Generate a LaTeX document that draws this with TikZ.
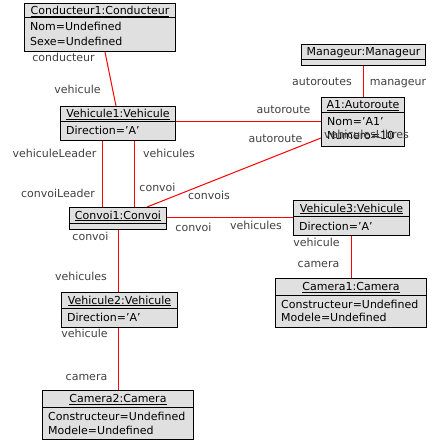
\documentclass[tikz,border=0pt]{standalone}
\usepackage{fontspec}
\setmainfont{DejaVu Sans}
\usetikzlibrary{calc}
\definecolor{boxfill}{RGB}{224,224,224}
\definecolor{lblcol}{RGB}{64,64,64}
\tikzset{
  objbox/.style={draw=black, line width=1pt, fill=boxfill, rectangle, inner sep=0pt, anchor=north west},
  ttl/.style={inner sep=0pt, text height=9pt, text depth=1pt, font=\fontsize{11}{13}\selectfont},
  attr/.style={inner sep=0pt, anchor=west, text height=9pt, text depth=1pt, font=\fontsize{11}{13}\selectfont},
  lbl/.style={inner sep=0pt, text height=9pt, text depth=1pt, text=lblcol, font=\fontsize{11}{13}\selectfont},
  conn/.style={draw=red, line width=1pt},
  divline/.style={line width=1pt},
}
\newcommand\umlobj[7]{%
  \node[objbox, minimum width={#4-#2}, minimum height={#5-#3}] (#1) at (#2,#3) {};
  \draw[divline] ($(#1.north west)+(0,#6)$) -- ($(#1.north east)+(0,#6)$);
  \node[ttl] (#1-t) at ($(#1.north)+(0,{#6/2})$) {\underline{#7}};
}
\begin{document}
\begin{tikzpicture}[x=1pt,y=-1pt]
\useasboundingbox (0,0) rectangle (433,446);
% boxes (placed first to get names; drawn over connectors via layers)
\pgfdeclarelayer{bg}
\pgfsetlayers{bg,main}
\umlobj{cond}{24}{3}{175}{51}{15}{Conducteur1:Conducteur}
\node[attr] (cond-a1) at ($(cond.north west)+(6,24)$) {Nom=Undefined};
\node[attr] (cond-a2) at ($(cond.north west)+(6,39)$) {Sexe=Undefined};
\umlobj{veh1}{60}{106}{175}{140}{16}{Vehicule1:Vehicule}
\node[attr] (veh1-a1) at ($(veh1.north west)+(6,25)$) {Direction='A'};
\umlobj{man}{301}{44}{425}{65}{16}{Manageur:Manageur}
\umlobj{aone}{321}{97}{404}{146}{16}{A1:Autoroute}
\node[attr] (aone-a1) at ($(aone.north west)+(6,25)$) {Nom='A1'};
\node[attr] (aone-a2) at ($(aone.north west)+(6,39)$) {Numero=10};
\umlobj{convoi}{69}{207}{166}{229}{16}{Convoi1:Convoi}
\umlobj{veh3}{293}{200}{409}{235}{16}{Vehicule3:Vehicule}
\node[attr] (veh3-a1) at ($(veh3.north west)+(6,26)$) {Direction='A'};
\umlobj{cam1}{275}{278}{426}{327}{17}{Camera1:Camera}
\node[attr] (cam1-a1) at ($(cam1.north west)+(6,26)$) {Constructeur=Undefined};
\node[attr] (cam1-a2) at ($(cam1.north west)+(6,39)$) {Modele=Undefined};
\umlobj{veh2}{61}{292}{177}{327}{16}{Vehicule2:Vehicule}
\node[attr] (veh2-a1) at ($(veh2.north west)+(6,25)$) {Direction='A'};
\umlobj{cam2}{42}{390}{193}{439}{17}{Camera2:Camera}
\node[attr] (cam2-a1) at ($(cam2.north west)+(6,26)$) {Constructeur=Undefined};
\node[attr] (cam2-a2) at ($(cam2.north west)+(6,40)$) {Modele=Undefined};
% connectors
\begin{pgfonlayer}{bg}
\draw[conn] ($(cond.south west)+(81,0)$) -- ($(veh1.north west)+(56,0)$);
\draw[conn] ($(veh1.north east)+(0,16)$) -- ($(aone.north west)+(0,25)$);
\draw[conn] ($(veh1.south west)+(42,0)$) -- ($(convoi.north west)+(33,0)$);
\draw[conn] ($(veh1.south west)+(74,0)$) -- ($(convoi.north west)+(65,0)$);
\draw[conn] ($(convoi.north west)+(78,0)$) -- ($(aone.north west)+(0,41)$);
\draw[conn] ($(man.south west)+(62,0)$) -- ($(aone.north west)+(42,0)$);
\draw[conn] ($(convoi.north east)+(0,10)$) -- ($(veh3.north west)+(0,17)$);
\draw[conn] ($(convoi.south west)+(49,0)$) -- ($(veh2.north west)+(57,0)$);
\draw[conn] ($(veh3.south west)+(58,0)$) -- ($(cam1.north west)+(76,0)$);
\draw[conn] ($(veh2.south west)+(57,0)$) -- ($(cam2.north west)+(76,0)$);
\end{pgfonlayer}
% role labels
\node[lbl] (l1) at (63.5,58) {conducteur};
\node[lbl] (l2) at (77.5,90) {vehicule};
\node[lbl] (l3) at (322,82) {autoroutes};
\node[lbl] (l4) at (398,82) {manageur};
\node[lbl] (l5) at (283.5,110) {autoroute};
\node[lbl] (l6) at (275.5,139) {autoroute};
\node[lbl] (l7) at (366.5,135) {vehiculesLibres};
\node[lbl] (l8) at (54.5,154) {vehiculeLeader};
\node[lbl] (l9) at (169,154) {vehicules};
\node[lbl] (l10) at (58,193) {convoiLeader};
\node[lbl] (l11) at (157.5,187) {convoi};
\node[lbl] (l12) at (209,196) {convois};
\node[lbl] (l13) at (90.5,236) {convoi};
\node[lbl] (l14) at (193.5,227) {convoi};
\node[lbl] (l15) at (256,225) {vehicules};
\node[lbl] (l16) at (81,276) {vehicules};
\node[lbl] (l17) at (316.5,242) {vehicule};
\node[lbl] (l18) at (318.5,263) {camera};
\node[lbl] (l19) at (84.5,333) {vehicule};
\node[lbl] (l20) at (86.5,376) {camera};
\end{tikzpicture}
\end{document}
